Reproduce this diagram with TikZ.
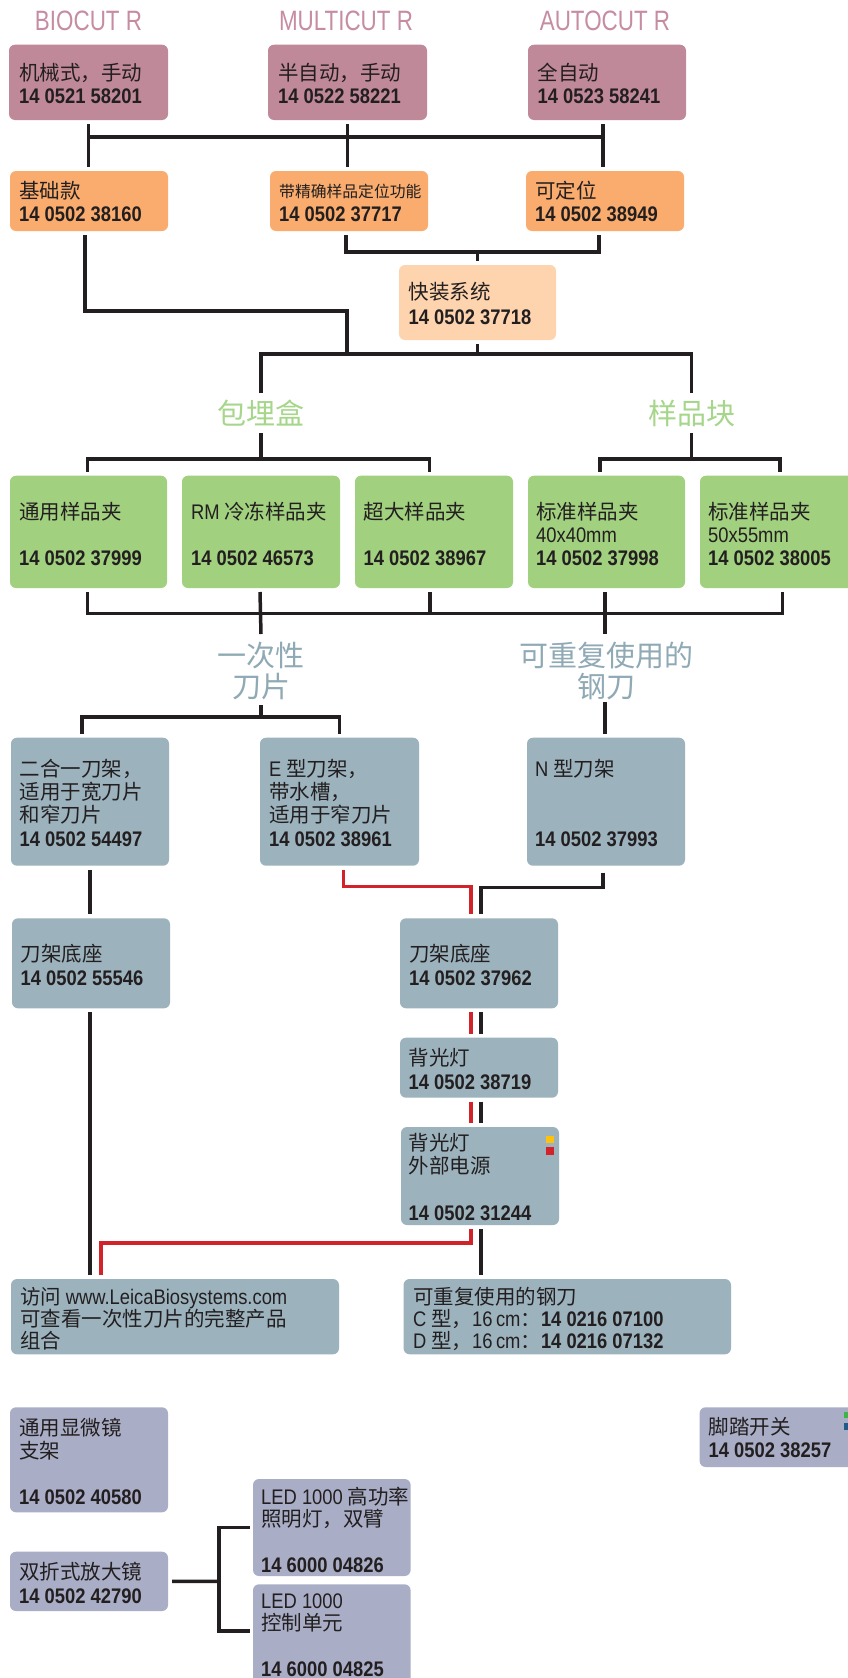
\documentclass[tikz,border=0pt]{standalone}
\usepackage{fontspec}
\setmainfont{Noto Sans CJK SC}
\newfontfamily\latf{Liberation Sans}[FakeStretch=0.87,Scale=1.03]
\newfontfamily\titf{Liberation Sans}[FakeStretch=0.8]
\newcommand\nm[1]{{\latf\bfseries #1}}
\newcommand\la[1]{{\latf #1}}
\definecolor{pinkc}{HTML}{C0899A}
\definecolor{pinkt}{HTML}{C68CA3}
\definecolor{orangec}{HTML}{F9AC6D}
\definecolor{peachc}{HTML}{FDD4AE}
\definecolor{greenc}{HTML}{A1D07F}
\definecolor{greent}{HTML}{A6D68A}
\definecolor{grayc}{HTML}{9CB3BE}
\definecolor{grayt}{HTML}{8FA9B5}
\definecolor{lavc}{HTML}{A9AEC6}
\definecolor{inkc}{HTML}{231F20}
\definecolor{redc}{HTML}{D2232A}
\definecolor{yelc}{HTML}{FDC20E}
\definecolor{grnsq}{HTML}{3DB54A}
\definecolor{blusq}{HTML}{1F5B8C}
\newcommand\mybox[6]{\node[bx, fill=#2, minimum width={(#5-#3)*1pt}, minimum height={(#6-#4)*1pt}] (#1) at ({(#3+#5)/2},{(#4+#6)/2}) {};}
\tikzset{
  bx/.style={rounded corners=6pt, inner sep=0pt, outer sep=0pt, draw=none},
  tx/.style={inner sep=0pt, align=left, text=inkc, anchor=base west, font=\fontsize{20.5}{23}\selectfont},
  ttl/.style={inner sep=0pt, anchor=base, text=pinkt, font=\titf\fontsize{28}{30}\selectfont},
  lbl/.style={inner sep=0pt, align=center, font=\fontsize{29}{31.7}\selectfont},
  ln/.style={line width=3.5pt, draw=inkc, line join=miter},
  rd/.style={line width=3.5pt, draw=redc, line join=miter}
}
\begin{document}
\begin{tikzpicture}[x=1pt,y=-1pt]
\useasboundingbox[fill=white] (0,0) rectangle (847,1678);
% titles
\node[ttl] (t1) at (88.5,31) {BIOCUT R};
\node[ttl] (t2) at (346,31) {MULTICUT R};
\node[ttl] (t3) at (605,31) {AUTOCUT R};
% pink
\mybox{p1}{pinkc}{9}{44.7}{168}{120}
\mybox{p2}{pinkc}{268}{44.7}{427}{120}
\mybox{p3}{pinkc}{528}{44.7}{686}{120}
\node[tx] (p1t) at (19,103.8) {机械式，手动\\[0.3pt]\nm{14 0521 58201}};
\node[tx] (p2t) at (278,103.8) {半自动，手动\\[0.3pt]\nm{14 0522 58221}};
\node[tx] (p3t) at (537.5,103.8) {全自动\\[0.3pt]\nm{14 0523 58241}};
% orange
\mybox{o1}{orangec}{10}{171}{168}{231}
\mybox{o2}{orangec}{270}{171}{428}{231}
\mybox{o3}{orangec}{526}{171}{684}{231}
\node[tx] (o1t) at (19,221.5) {基础款\\\nm{14 0502 38160}};
\node[tx] (o2t) at (279,221.5) {{\fontsize{15.8}{18}\selectfont 带精确样品定位功能}\\[1pt]\nm{14 0502 37717}};
\node[tx] (o3t) at (535,221.5) {可定位\\\nm{14 0502 38949}};
% quick
\mybox{q}{peachc}{399}{265}{556}{340}
\node[tx] (qt) at (408.5,324.5) {快装系统\\[2pt]\nm{14 0502 37718}};
% labels
\node[lbl, text=greent] (lb1) at (261,413) {包埋盒};
\node[lbl, text=greent] (lb2) at (691.5,413) {样品块};
\node[lbl, text=grayt] (lb3) at (261,671) {一次性\\刀片};
\node[lbl, text=grayt] (lb4) at (606,671) {可重复使用的\\钢刀};
% green
\mybox{g1}{greenc}{10}{475.7}{167}{588}
\mybox{g2}{greenc}{182}{475.7}{340}{588}
\mybox{g3}{greenc}{355}{475.7}{513}{588}
\mybox{g4}{greenc}{528}{475.7}{685}{588}
\mybox{g5}{greenc}{700}{475.7}{858}{588}
\node[tx] (g1t) at (19,565) {通用样品夹\\\mbox{}\\\nm{14 0502 37999}};
\node[tx] (g2t) at (191,565) {\la{RM} 冷冻样品夹\\\mbox{}\\\nm{14 0502 46573}};
\node[tx] (g3t) at (363.5,565) {超大样品夹\\\mbox{}\\\nm{14 0502 38967}};
\node[tx] (g4t) at (536,565) {标准样品夹\\\la{40x40mm}\\\nm{14 0502 37998}};
\node[tx] (g5t) at (708,565) {标准样品夹\\\la{50x55mm}\\\nm{14 0502 38005}};
% gray row 1
\mybox{k1}{grayc}{11}{737.7}{169}{865.7}
\mybox{k2}{grayc}{260}{737.7}{419}{865.7}
\mybox{k3}{grayc}{527}{737.7}{685}{865.7}
\node[tx] (k1t) at (19.5,846) {二合一刀架，\\适用于宽刀片\\和窄刀片\\[1pt]\nm{14 0502 54497}};
\node[tx] (k2t) at (269,846) {\la{E} 型刀架，\\带水槽，\\适用于窄刀片\\[1pt]\nm{14 0502 38961}};
\node[tx] (k3t) at (535,846) {\la{N} 型刀架\\\mbox{}\\\mbox{}\\[1pt]\nm{14 0502 37993}};
% gray row 2
\mybox{b1}{grayc}{12}{918.3}{170}{1008.3}
\mybox{b2}{grayc}{400}{918.3}{558}{1008.3}
\node[tx] (b1t) at (20.5,985.2) {刀架底座\\[1pt]\nm{14 0502 55546}};
\node[tx] (b2t) at (409,985.2) {刀架底座\\[1pt]\nm{14 0502 37962}};
\mybox{L1}{grayc}{400}{1037.7}{558}{1097.7}
\node[tx] (L1t) at (408.5,1089.2) {背光灯\\[1pt]\nm{14 0502 38719}};
\mybox{L2}{grayc}{401}{1127}{559}{1225}
\node[tx] (L2t) at (408.5,1220) {背光灯\\外部电源\\\mbox{}\\[1pt]\nm{14 0502 31244}};
\fill[yelc] (546,1136) rectangle (554,1143.3);
\fill[redc] (546,1146.7) rectangle (554,1155);
% bottom gray
\mybox{v1}{grayc}{11}{1279}{339}{1354.3}
\mybox{v2}{grayc}{403.6}{1279}{731}{1354.3}
\node[tx, font=\fontsize{20.5}{22}\selectfont] (v1t) at (20,1348.5) {访问 \la{www.LeicaBiosystems.com}\\可查看一次性刀片的完整产品\\组合};
\node[tx, font=\fontsize{20.5}{22}\selectfont] (v2t) at (413,1348.5) {可重复使用的钢刀\\\la{C} 型，\la{16\,cm}：\nm{14 0216 07100}\\\la{D} 型，\la{16\,cm}：\nm{14 0216 07132}};
% lavender
\mybox{m1}{lavc}{10}{1407.3}{168}{1512.3}
\node[tx] (m1t) at (19,1504) {通用显微镜\\支架\\\mbox{}\\\nm{14 0502 40580}};
\mybox{f1}{lavc}{699.6}{1407.3}{860}{1467}
\node[tx] (f1t) at (708.5,1457.8) {脚踏开关\\\nm{14 0502 38257}};
\fill[grnsq] (844,1411.7) rectangle (850,1418.3);
\fill[blusq] (844,1422.7) rectangle (850,1430);
\mybox{m2}{lavc}{10}{1551.7}{168}{1611}
\node[tx] (m2t) at (19,1603.5) {双折式放大镜\\[1pt]\nm{14 0502 42790}};
\mybox{e1}{lavc}{253}{1479}{410.6}{1576}
\node[tx, font=\fontsize{20.5}{22}\selectfont] (e1t) at (261,1572) {\la{LED 1000} 高功率\\照明灯，双臂\\\mbox{}\\[2pt]\nm{14 6000 04826}};
\mybox{e2}{lavc}{253}{1584.3}{410.6}{1700}
\node[tx, font=\fontsize{20.5}{22}\selectfont] (e2t) at (261,1676) {\la{LED 1000}\\控制单元\\\mbox{}\\[2pt]\nm{14 6000 04825}};
% connectors: pink -> orange
\draw[ln] ([yshift=-4pt]p1.south) -- ([yshift=4pt]p1.south |- o1.north);
\draw[ln] ([yshift=-4pt]p2.south) -- ([yshift=4pt]p2.south |- o2.north);
\draw[ln] ([xshift=-4pt,yshift=-4pt]p3.south) -- ([xshift=-4pt,yshift=4pt]p3.south |- o3.north);
\draw[ln] (p1.south |- 0,137) -- ([xshift=-4pt]p3.south |- 0,137);
% orange -> quick / holders
\draw[ln] ([xshift=-4pt,yshift=-4pt]o1.south) |- (347,311) -- (347,354);
\draw[ln] ([xshift=-3pt,yshift=-4pt]o2.south) |- (q.north |- 0,252) -| ([xshift=-6pt,yshift=-4pt]o3.south);
\draw[ln] (q.north |- 0,252) -- ([yshift=4pt]q.north);
\draw[ln] ([yshift=-4pt]q.south) -- (q.south |- 0,354);
\draw[ln] ([yshift=20pt]lb1.center) |- (lb2.center |- 0,354) -- ([yshift=20pt]lb2.center);
% labels -> green
\draw[ln] ([yshift=-20pt]lb1.center) -- (lb1.center |- 0,459);
\draw[ln] ([xshift=-1pt,yshift=4pt]g1.north) |- ([xshift=-4.5pt]g3.north |- 0,459) -- ([xshift=-4.5pt,yshift=4pt]g3.north);
\draw[ln] ([yshift=-20pt]lb2.center) -- (lb2.center |- 0,459);
\draw[ln] ([xshift=-6.5pt,yshift=4pt]g4.north) |- ([xshift=1pt]g5.north |- 0,459) -- ([xshift=1pt,yshift=4pt]g5.north);
% green -> blade labels
\draw[ln] ([xshift=-1pt,yshift=-4pt]g1.south) |- ([xshift=3.5pt]g5.south |- 0,613.3) -- ([xshift=3.5pt,yshift=-4pt]g5.south);
\draw[ln] ([xshift=-4pt,yshift=-4pt]g3.south) -- ([xshift=-4pt]g3.south |- 0,613.3);
\draw[ln] ([xshift=-1pt,yshift=-4pt]g2.south) -- ([yshift=37pt]lb3.center);
\draw[ln] ([xshift=-1.5pt,yshift=-4pt]g4.south) -- ([xshift=-1pt,yshift=37pt]lb4.center);
% blade labels -> knife holders
\draw[ln] ([yshift=-34pt]lb3.center) -- (lb3.center |- 0,717);
\draw[ln] ([xshift=-8pt,yshift=4pt]k1.north) |- (k2.north |- 0,717) -- ([yshift=4pt]k2.north);
\draw[ln] ([xshift=-1pt,yshift=-31pt]lb4.center) -- ([xshift=-1pt,yshift=4pt]k3.north);
% holders -> bases
\draw[ln] ([yshift=-4pt]k1.south) -- ([xshift=-1pt,yshift=4pt]b1.north);
\draw[rd] ([xshift=4pt,yshift=-4pt]k2.south) |- ([xshift=-8pt]b2.north |- 0,886.7) -- ([xshift=-8pt,yshift=4pt]b2.north);
\draw[ln] ([xshift=-3pt,yshift=-7pt]k3.south) |- ([xshift=2pt]b2.north |- 0,887.7) -- ([xshift=2pt,yshift=4pt]b2.north);
% base -> backlights
\draw[rd] ([xshift=-8pt,yshift=-4pt]b2.south) -- ([xshift=-8pt,yshift=4pt]L1.north);
\draw[ln] ([xshift=2pt,yshift=-4pt]b2.south) -- ([xshift=2pt,yshift=4pt]L1.north);
\draw[rd] ([xshift=-8pt,yshift=-4pt]L1.south) -- ([xshift=-9pt,yshift=4pt]L2.north);
\draw[ln] ([xshift=2pt,yshift=-4pt]L1.south) -- ([xshift=1pt,yshift=4pt]L2.north);
% to bottom boxes
\draw[rd] ([xshift=-9pt,yshift=-4pt]L2.south) |- ([xshift=-74pt]v1.north |- 0,1243) -- ([xshift=-74pt,yshift=4pt]v1.north);
\draw[ln] ([xshift=1pt,yshift=-4pt]L2.south) -- ([xshift=-86.3pt,yshift=4pt]v2.north);
\draw[ln] ([xshift=-1pt,yshift=-4pt]b1.south) -- ([xshift=-85pt,yshift=4pt]v1.north);
% magnifier
\coordinate (jm) at (219,1581.4);
\draw[ln] ([xshift=4pt]m2.east) -- (jm);
\draw[ln] ([xshift=-3.5pt]e1.west) -| (jm |- 0,1631) -- ([xshift=-3.5pt]e2.west |- 0,1631);
\end{tikzpicture}
\end{document}
